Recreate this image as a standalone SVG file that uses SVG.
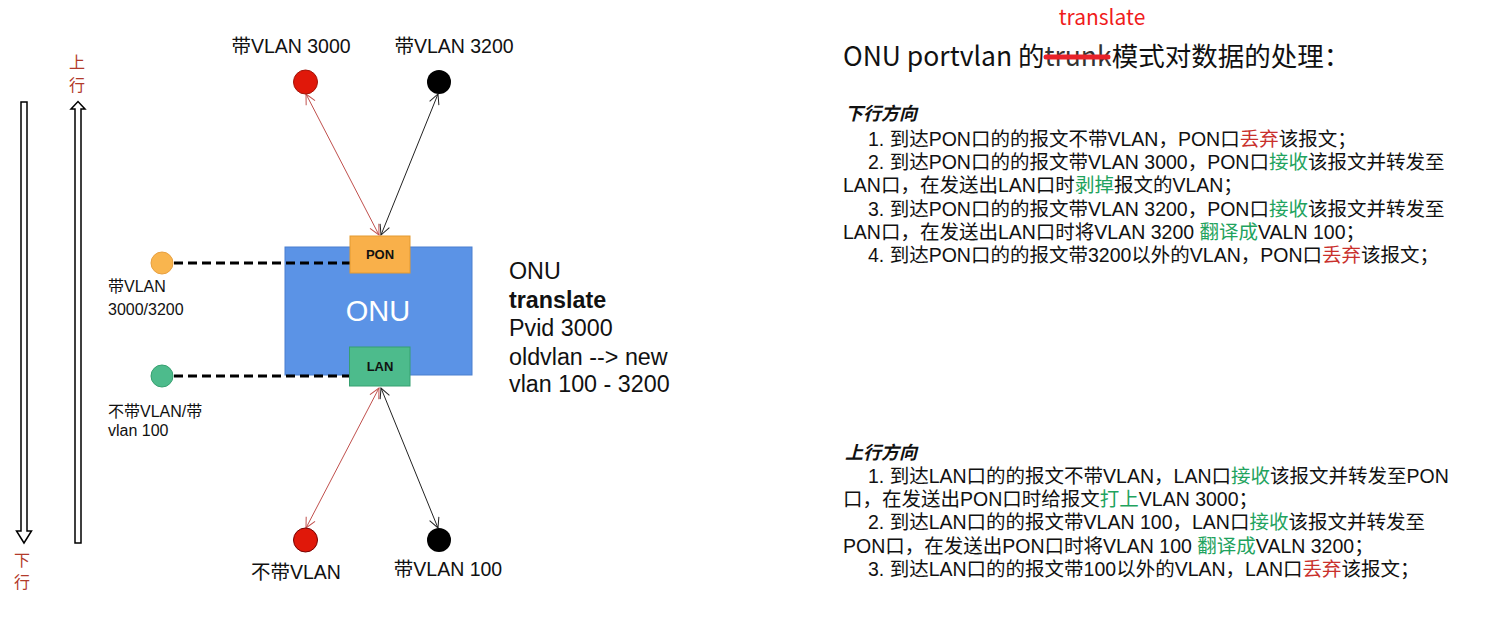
<svg xmlns="http://www.w3.org/2000/svg" width="1496" height="636" viewBox="0 0 1496 636">
<style>
.lbl{font-family:"Liberation Sans","Noto Sans CJK SC",sans-serif;fill:#111}
.dir{font-family:"Noto Sans CJK SC",sans-serif;fill:#b23a2a;font-size:16px}
.body{font-family:"Liberation Sans","Noto Sans CJK SC",sans-serif;font-size:19.5px;fill:#111}
.g{fill:#1fa35e}
.r{fill:#c9302c}
.hollow{fill:#fff;stroke:#000;stroke-width:1.5}
.dash{stroke:#000;stroke-width:3;stroke-dasharray:9,5;fill:none}
.ln-r{stroke:#c0504d;stroke-width:1;fill:none;marker-start:url(#ar);marker-end:url(#ar)}
.ln-k{stroke:#222;stroke-width:1;fill:none;marker-start:url(#ak);marker-end:url(#ak)}
.port{font-family:"Liberation Sans",sans-serif;font-weight:bold;font-size:13px;fill:#111;text-anchor:middle}
</style>
<defs>
<marker id="ar" viewBox="0 0 12 12" refX="11" refY="6" markerWidth="12" markerHeight="12" markerUnits="userSpaceOnUse" orient="auto-start-reverse">
<path d="M1,1 L11,6 L1,11" fill="none" stroke="#c0504d" stroke-width="1"/>
</marker>
<marker id="ak" viewBox="0 0 12 12" refX="11" refY="6" markerWidth="12" markerHeight="12" markerUnits="userSpaceOnUse" orient="auto-start-reverse">
<path d="M1,1 L11,6 L1,11" fill="none" stroke="#222" stroke-width="1"/>
</marker>
</defs>
<rect width="1496" height="636" fill="#fff"/>

<!-- direction arrows -->
<g id="down-arrow">
<path class="hollow" d="M21,102 H27 V531 H31.5 L24,543 L16.5,531 H21 Z"/>
<text class="dir" x="22" y="566" text-anchor="middle">下</text>
<text class="dir" x="22" y="588" text-anchor="middle">行</text>
</g>
<g id="up-arrow">
<path class="hollow" d="M75,543 H81 V109 H85 L78,101.5 L71,109 H75 Z"/>
<text class="dir" x="77" y="68" text-anchor="middle">上</text>
<text class="dir" x="77" y="91" text-anchor="middle">行</text>
</g>

<!-- ONU -->
<g id="onu">
<rect x="285" y="247" width="187" height="128" fill="#5b93e6" stroke="#4a7fcf" stroke-width="1"/>
<text x="378" y="321" text-anchor="middle" font-family="Liberation Sans, sans-serif" font-size="29" fill="#fff">ONU</text>
</g>

<!-- connectors -->
<g id="connectors">
<line class="dash" x1="174" y1="263" x2="350" y2="263"/>
<line class="dash" x1="174" y1="376" x2="350" y2="376"/>
<line class="ln-r" x1="306" y1="94" x2="379" y2="235"/>
<line class="ln-k" x1="438" y1="94" x2="381" y2="235"/>
<line class="ln-r" x1="379" y1="388" x2="306" y2="528"/>
<line class="ln-k" x1="381" y1="388" x2="438" y2="528"/>
</g>

<g id="pon">
<rect x="350" y="236" width="60" height="37" fill="#f9b04a" stroke="#e39a30" stroke-width="1"/>
<text class="port" x="380" y="259">PON</text>
</g>
<g id="lan">
<rect x="349.5" y="347" width="60.5" height="39" fill="#4dbb8c" stroke="#36a070" stroke-width="1"/>
<text class="port" x="380" y="371">LAN</text>
</g>

<!-- left nodes -->
<g id="node-tagged">
<circle cx="162" cy="263" r="11" fill="#f9b54e" stroke="#e8a040" stroke-width="1"/>
<text class="lbl" x="108" y="292" font-size="16">带VLAN</text>
<text class="lbl" x="108" y="315" font-size="16">3000/3200</text>
</g>
<g id="node-untagged">
<circle cx="162" cy="376" r="11" fill="#4dbb8c" stroke="#36a070" stroke-width="1"/>
<text class="lbl" x="108" y="417" font-size="16">不带VLAN/带</text>
<text class="lbl" x="108" y="436" font-size="16">vlan 100</text>
</g>

<!-- top nodes -->
<g id="node-vlan3000">
<circle cx="305.5" cy="82" r="12" fill="#e0180a" stroke="#a31408" stroke-width="1"/>
<text class="lbl" x="291" y="53" font-size="19.5" text-anchor="middle">带VLAN 3000</text>
</g>
<g id="node-vlan3200">
<circle cx="439" cy="82" r="12" fill="#000"/>
<text class="lbl" x="454" y="53" font-size="19.5" text-anchor="middle">带VLAN 3200</text>
</g>

<!-- bottom nodes -->
<g id="node-novlan">
<circle cx="305.5" cy="540" r="12" fill="#e0180a" stroke="#700" stroke-width="1"/>
<text class="lbl" x="296" y="579" font-size="19.5" text-anchor="middle">不带VLAN</text>
</g>
<g id="node-vlan100">
<circle cx="439" cy="540" r="12" fill="#000"/>
<text class="lbl" x="448" y="576" font-size="19.5" text-anchor="middle">带VLAN 100</text>
</g>

<!-- ONU config text -->
<g id="onu-config" font-family="Liberation Sans, sans-serif" font-size="23.3" fill="#111">
<text x="509" y="279">ONU</text>
<text x="509" y="308" font-weight="bold">translate</text>
<text x="509" y="336">Pvid 3000</text>
<text x="509" y="365">oldvlan --&gt; new</text>
<text x="509" y="392">vlan 100 - 3200</text>
</g>

<!-- right panel -->
<g id="title">
<text x="1102" y="25" text-anchor="middle" font-family="Noto Sans CJK SC, sans-serif" font-size="21" fill="#f01c1c">translate</text>
<text x="843" y="66" font-family="Noto Sans CJK SC, sans-serif" font-size="26.5" fill="#111">ONU portvlan 的<tspan fill="#333">trunk</tspan>模式对数据的处理：</text>
<line x1="1046" y1="57" x2="1108" y2="57" stroke="#e8232a" stroke-width="5" stroke-linecap="round"/>
</g>

<g id="downstream" class="body">
<text x="845" y="120" font-size="18" font-weight="bold" font-style="italic">下行方向</text>
<text x="868" y="146">1. 到达PON口的的报文不带VLAN，PON口<tspan class="r">丢弃</tspan>该报文；</text>
<text x="868" y="169">2. 到达PON口的的报文带VLAN 3000，PON口<tspan class="g">接收</tspan>该报文并转发至</text>
<text x="843" y="192">LAN口，在发送出LAN口时<tspan class="g">剥掉</tspan>报文的VLAN；</text>
<text x="868" y="216">3. 到达PON口的的报文带VLAN 3200，PON口<tspan class="g">接收</tspan>该报文并转发至</text>
<text x="843" y="239">LAN口，在发送出LAN口时将VLAN 3200 <tspan class="g">翻译成</tspan>VALN 100；</text>
<text x="868" y="262">4. 到达PON口的的报文带3200以外的VLAN，PON口<tspan class="r">丢弃</tspan>该报文；</text>
</g>

<g id="upstream" class="body">
<text x="845" y="459" font-size="18" font-weight="bold" font-style="italic">上行方向</text>
<text x="868" y="483">1. 到达LAN口的的报文不带VLAN，LAN口<tspan class="g">接收</tspan>该报文并转发至PON</text>
<text x="843" y="506">口，在发送出PON口时给报文<tspan class="g">打上</tspan>VLAN 3000；</text>
<text x="868" y="529">2. 到达LAN口的的报文带VLAN 100，LAN口<tspan class="g">接收</tspan>该报文并转发至</text>
<text x="843" y="553">PON口，在发送出PON口时将VLAN 100 <tspan class="g">翻译成</tspan>VALN 3200；</text>
<text x="868" y="576">3. 到达LAN口的的报文带100以外的VLAN，LAN口<tspan class="r">丢弃</tspan>该报文；</text>
</g>
</svg>
